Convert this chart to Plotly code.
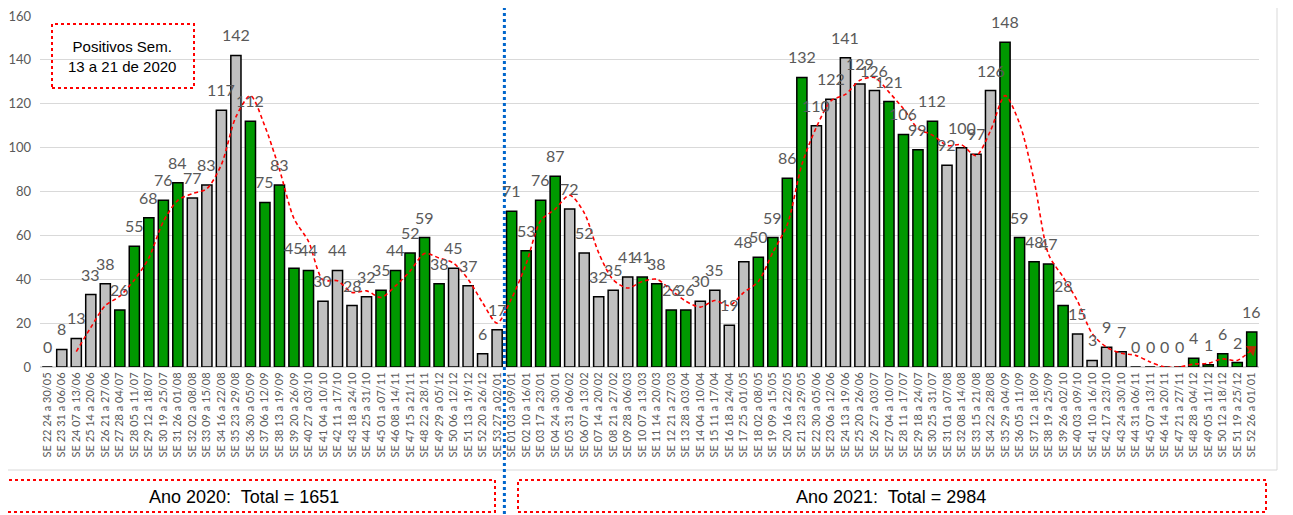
import plotly.graph_objects as go

# ---------------- data ----------------
weeks_2020 = ["SE 22 24 a 30/05", "SE 23 31 a 06/06", "SE 24 07 a 13/06", "SE 25 14 a 20/06",
              "SE 26 21 a 27/06", "SE 27 28 a 04/07", "SE 28 05 a 11/07", "SE 29 12 a 18/07",
              "SE 30 19 a 25/07", "SE 31 26 a 01/08", "SE 32 02 a 08/08", "SE 33 09 a 15/08",
              "SE 34 16 a 22/08", "SE 35 23 a 29/08", "SE 36 30 a 05/09", "SE 37 06 a 12/09",
              "SE 38 13 a 19/09", "SE 39 20 a 26/09", "SE 40 27 a 03/10", "SE 41 04 a 10/10",
              "SE 42 11 a 17/10", "SE 43 18 a 24/10", "SE 44 25 a 31/10", "SE 45 01 a 07/11",
              "SE 46 08 a 14/11", "SE 47 15 a 21/11", "SE 48 22 a 28/11", "SE 49 29 a 05/12",
              "SE 50 06 a 12/12", "SE 51 13 a 19/12", "SE 52 20 a 26/12", "SE 53 27 a 02/01"]
cases_2020 = [0, 8, 13, 33, 38, 26, 55, 68, 76, 84, 77, 83, 117, 142, 112, 75, 83, 45, 44, 30,
              44, 28, 32, 35, 44, 52, 59, 38, 45, 37, 6, 17]
highlight_2020 = [0, 0, 0, 0, 0, 1, 1, 1, 1, 1, 0, 0, 0, 0, 1, 1, 1, 1, 1, 0,
                  0, 0, 0, 1, 1, 1, 1, 1, 0, 0, 0, 0]

weeks_2021 = ["SE 01 03 a 09/01", "SE 02 10 a 16/01", "SE 03 17 a 23/01", "SE 04 24 a 30/01",
              "SE 05 31 a 06/02", "SE 06 07 a 13/02", "SE 07 14 a 20/02", "SE 08 21 a 27/02",
              "SE 09 28 a 06/03", "SE 10 07 a 13/03", "SE 11 14 a 20/03", "SE 12 21 a 27/03",
              "SE 13 28 a 03/04", "SE 14 04 a 10/04", "SE 15 11 a 17/04", "SE 16 18 a 24/04",
              "SE 17 25 a 01/05", "SE 18 02 a 08/05", "SE 19 09 a 15/05", "SE 20 16 a 22/05",
              "SE 21 23 a 29/05", "SE 22 30 a 05/06", "SE 23 06 a 12/06", "SE 24 13 a 19/06",
              "SE 25 20 a 26/06", "SE 26 27 a 03/07", "SE 27 04 a 10/07", "SE 28 11 a 17/07",
              "SE 29 18 a 24/07", "SE 30 25 a 31/07", "SE 31 01 a 07/08", "SE 32 08 a 14/08",
              "SE 33 15 a 21/08", "SE 34 22 a 28/08", "SE 35 29 a 04/09", "SE 36 05 a 11/09",
              "SE 37 12 a 18/09", "SE 38 19 a 25/09", "SE 39 26 a 02/10", "SE 40 03 a 09/10",
              "SE 41 10 a 16/10", "SE 42 17 a 23/10", "SE 43 24 a 30/10", "SE 44 31 a 06/11",
              "SE 45 07 a 13/11", "SE 46 14 a 20/11", "SE 47 21 a 27/11", "SE 48 28 a 04/12",
              "SE 49 05 a 11/12", "SE 50 12 a 18/12", "SE 51 19 a 25/12", "SE 52 26 a 01/01"]
cases_2021 = [71, 53, 76, 87, 72, 52, 32, 35, 41, 41, 38, 26, 26, 30, 35, 19, 48, 50, 59, 86,
              132, 110, 122, 141, 129, 126, 121, 106, 99, 112, 92, 100, 97, 126, 148, 59, 48, 47,
              28, 15, 3, 9, 7, 0, 0, 0, 0, 4, 1, 6, 2, 16]
highlight_2021 = [1, 1, 1, 1, 0, 0, 0, 0, 0, 1, 1, 1, 1, 0, 0, 0, 0, 1, 1, 1,
                  1, 0, 0, 0, 0, 0, 1, 1, 1, 1, 0, 0, 0, 0, 1, 1, 1, 1, 1, 0,
                  0, 0, 0, 0, 0, 0, 0, 1, 1, 1, 1, 1]

# 3-week moving-average trend, starting at SE 24/2020
trend = [7, 18, 28, 32.3, 39.7, 49.7, 66.3, 76, 79, 81.3, 92.3, 114, 123.7, 109.7, 90, 67.7,
         57.3, 39.7, 39.3, 34, 34.7, 31.7, 37, 43.7, 51.7, 49.7, 47.3, 40, 29.3, 20,
         31.3, 47, 66.7, 72, 78.3, 70.3, 52, 39.7, 36, 39, 40, 35, 30, 27.3, 30.3, 28,
         34, 39, 52.3, 65, 92.3, 109.3, 121.3, 124.3, 130.7, 132, 125.3, 117.7, 108.7,
         105.7, 101, 101.3, 96.3, 107.7, 123.7, 111, 85, 51.3, 41, 30, 15.3, 9, 6.3,
         5.3, 2.3, 0, 0, 1.3, 1.7, 3.7, 3, 8]

total_2020 = 1651
total_2021 = 2984
note_text = "Positivos Sem.<br>13 a 21 de 2020"

# ---------------- figure ----------------
weeks = weeks_2020 + weeks_2021
cases = cases_2020 + cases_2021
flags = highlight_2020 + highlight_2021
bar_colors = ["#009900" if f else "#c0c0c0" for f in flags]

label_font = "Lato, Carlito, Liberation Sans, sans-serif"
box_font = "Liberation Sans, Arial, sans-serif"

fig = go.Figure()
fig.add_trace(go.Bar(
    x=weeks, y=cases,
    marker=dict(color=bar_colors, line=dict(color="#000000", width=1.5)),
    hoverinfo="x+y", showlegend=False,
))

trend_x = weeks[len(weeks) - len(trend):]
sizes = [0] * len(trend)
symbols = ["circle"] * len(trend)
sizes[0] = 10
sizes[-1] = 11
symbols[-1] = "triangle-up"
fig.add_trace(go.Scatter(
    x=trend_x, y=trend, mode="lines+markers",
    line=dict(color="#ff0000", width=1.6, dash="4px,3px", shape="spline", smoothing=0.8),
    marker=dict(size=sizes, symbol=symbols, color="#ff0000", angleref="previous",
                line=dict(width=0)),
    showlegend=False, hoverinfo="skip",
))

# data labels
for w, v in zip(weeks, cases):
    fig.add_annotation(x=w, y=v, text=str(v), showarrow=False, yanchor="bottom",
                       yshift=9, font=dict(family=label_font, size=16, color="#595959"))

# page offset (browser body margin) and plot geometry in page pixels
OFF = 8
FIG_W, FIG_H = 1293 - OFF, 515 - OFF
L, R, T, B = 40, 1259, 16, 367
W, H = R - L, B - T
px = lambda x: (x - L) / W
py = lambda y: (B - y) / H

shapes = []
# outer chart frame (bottom & right)
shapes.append(dict(type="line", xref="paper", yref="paper", x0=px(0), x1=px(1277),
                   y0=py(470), y1=py(470), line=dict(color="#d9d9d9", width=1)))
shapes.append(dict(type="line", xref="paper", yref="paper", x0=px(1277), x1=px(1277),
                   y0=py(0), y1=py(470), line=dict(color="#d9d9d9", width=1)))
# year separator
shapes.append(dict(type="line", xref="x", yref="paper", x0=len(weeks_2020) - 0.5,
                   x1=len(weeks_2020) - 0.5, y0=py(514), y1=py(0),
                   line=dict(color="#0066cc", width=3, dash="dot")))
# total boxes
shapes.append(dict(type="rect", xref="paper", yref="paper", x0=px(-4), x1=px(495),
                   y0=py(512), y1=py(480), line=dict(color="#ff0000", width=2, dash="dot")))
shapes.append(dict(type="rect", xref="paper", yref="paper", x0=px(518), x1=px(1266),
                   y0=py(512), y1=py(480), line=dict(color="#ff0000", width=2, dash="dot")))
# note box
shapes.append(dict(type="rect", xref="paper", yref="paper", x0=px(52), x1=px(194),
                   y0=py(88), y1=py(24), line=dict(color="#ff0000", width=2, dash="dot")))
fig.update_layout(shapes=shapes)

fig.add_annotation(xref="paper", yref="paper", x=px(244), y=py(497),
                   xanchor="center", yanchor="middle",
                   text=f"Ano 2020:&nbsp; Total = {total_2020}", showarrow=False,
                   font=dict(family=box_font, size=18, color="#000000"))
fig.add_annotation(xref="paper", yref="paper", x=px(891), y=py(497),
                   xanchor="center", yanchor="middle",
                   text=f"Ano 2021:&nbsp; Total = {total_2021}", showarrow=False,
                   font=dict(family=box_font, size=18, color="#000000"))
fig.add_annotation(xref="paper", yref="paper", x=px(122), y=py(57),
                   xanchor="center", yanchor="middle",
                   text=note_text, showarrow=False,
                   font=dict(family=box_font, size=15, color="#000000"))

fig.update_layout(
    width=FIG_W, height=FIG_H,
    margin=dict(l=L - OFF, r=FIG_W - (R - OFF), t=T - OFF, b=FIG_H - (B - OFF),
                autoexpand=False),
    paper_bgcolor="white", plot_bgcolor="white",
    bargap=0.3,
    xaxis=dict(type="category", tickangle=-90, automargin=False,
               range=[-0.5, len(weeks) - 0.5],
               tickfont=dict(family=label_font, size=11, color="#595959"),
               showgrid=False, showline=True, linecolor="#d9d9d9", ticks=""),
    yaxis=dict(range=[0, 160], dtick=20, automargin=False,
               tickfont=dict(family=label_font, size=13, color="#595959"),
               gridcolor="#d9d9d9", gridwidth=1, zeroline=True, zerolinecolor="#d9d9d9",
               showline=False, ticks="", ticklabelstandoff=8, ticklabeloverflow="allow"),
)

fig.write_html("out.html")
